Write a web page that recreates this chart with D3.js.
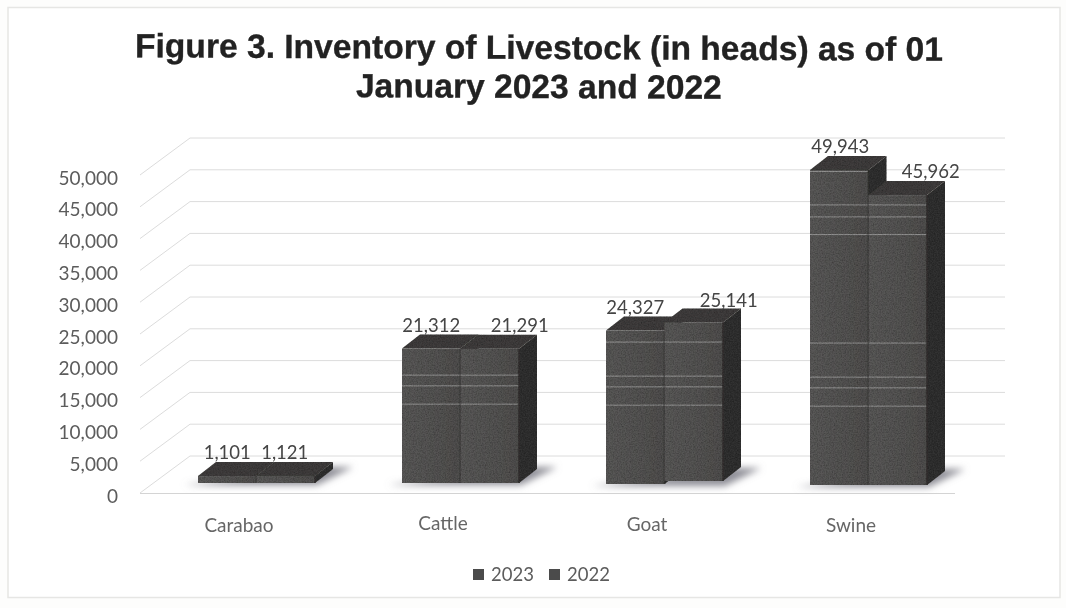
<!DOCTYPE html>
<html><head><meta charset="utf-8">
<script src="https://cdn.jsdelivr.net/npm/d3@7/dist/d3.min.js"></script>
<style>html,body{margin:0;padding:0;background:#fdfdfc}svg{display:block}</style>
</head><body><svg id="c" width="1066" height="608"></svg>
<script>
const categories = ["Carabao","Cattle","Goat","Swine"];
const seriesNames = ["2023","2022"];
const values2023 = [1101,21312,24327,49943];
const values2022 = [1121,21291,25141,45962];
const yTicks = [0,5000,10000,15000,20000,25000,30000,35000,40000,45000,50000];
const streakValues = [49700,44400,42500,39700,22500,17100,15400,12500];
const titleLines = ["Figure 3. Inventory of Livestock (in heads) as of 01","January 2023 and 2022"];

const svg = d3.select("#c");
const defs = svg.append("defs");
defs.append("filter").attr("id","blur").attr("x","-30%").attr("y","-100%").attr("width","160%").attr("height","300%")
  .append("feGaussianBlur").attr("stdDeviation",3.5);
const soft = defs.append("filter").attr("id","soft").attr("x","-2%").attr("y","-2%").attr("width","104%").attr("height","104%");
soft.append("feGaussianBlur").attr("stdDeviation",0.55);
const grain = defs.append("filter").attr("id","grain").attr("x",0).attr("y",0).attr("width","100%").attr("height","100%");
grain.append("feTurbulence").attr("type","fractalNoise").attr("baseFrequency",0.75).attr("numOctaves",2).attr("seed",4).attr("result","n");
grain.append("feColorMatrix").attr("in","n").attr("type","matrix")
  .attr("values","0 0 0 0 0  0 0 0 0 0  0 0 0 0 0  0.9 0 0 0 -0.32").attr("result","d");
grain.append("feComposite").attr("in","d").attr("in2","SourceAlpha").attr("operator","in").attr("result","dc");
const mg = grain.append("feMerge");
mg.append("feMergeNode").attr("in","SourceGraphic");
mg.append("feMergeNode").attr("in","dc");
const grad = defs.append("linearGradient").attr("id","face").attr("x1",0).attr("x2",1).attr("y1",0).attr("y2",0);
grad.append("stop").attr("offset",0).attr("stop-color","#5a5958");
grad.append("stop").attr("offset",1).attr("stop-color","#504f4e");

const root = svg.append("g").attr("filter","url(#soft)");

// frame
root.append("rect").attr("x",8).attr("y",7.5).attr("width",1052).attr("height",590)
  .attr("fill","#ffffff").attr("stroke","#e6e6e4").attr("stroke-width",1.5);

// title
root.append("g").attr("transform","rotate(0.25 539 59)").selectAll("text").data(titleLines).join("text")
  .attr("x",539).attr("y",(d,i)=>59+i*39).attr("text-anchor","middle")
  .attr("font-family","Liberation Sans").attr("font-weight","700").attr("font-size",33.6)
  .attr("fill","#222").attr("stroke","#222").attr("stroke-width",0.35).text(d=>d);

// scales
const y = d3.scaleLinear().domain([0,50000]).range([493,175]);
const depthX = 50, depthY = -37;
const xBand = d3.scaleBand().domain(categories).range([140,956]);
const xInner = d3.scaleBand().domain(seriesNames).range([58,175]);
const barH = d3.scaleLinear().domain([0,50000]).range([0,315.4]);
const baseY = {Carabao:483,Cattle:483,Goat:484,Swine:485};
const barDX = 18, barDY = -14;

// gridlines
const grid = root.append("g").attr("fill","none").attr("stroke","#dcdcdc").attr("stroke-width",1);
yTicks.forEach(t=>{
  const y0=y(t);
  grid.append("path").attr("d",d3.line()([[140,y0],[140+depthX,y0+depthY],[1005,y0+depthY]]));
});
root.append("line").attr("x1",140).attr("x2",955).attr("y1",y(0)+0.5).attr("y2",y(0)+0.5).attr("stroke","#d4d4d4");

// y axis
const axis = root.append("g").attr("transform","translate(118,3)")
  .call(d3.axisLeft(y).tickValues(yTicks).tickSize(0).tickPadding(0).tickFormat(d3.format(",")));
axis.select(".domain").remove();
axis.selectAll("text").attr("font-family","Lato").attr("font-size",19).attr("fill","#5c5c5c");

// shadows
const shadow = root.append("g").attr("filter","url(#blur)").attr("fill","#8e8e96");
categories.forEach(c=>{
  const x0=xBand(c)+xInner("2023"), x1=xBand(c)+xInner("2022")+xInner.bandwidth(), b=baseY[c];
  shadow.append("path").attr("d",d3.line()([[x0-14,b+2],[x1+2,b+2],[x1+38,b-16],[x1+10,b-16]]));
});

// bars
const bars = root.append("g").attr("filter","url(#grain)");
function drawBar(cat,ser,val,lift){
  const x0=xBand(cat)+xInner(ser), w=xInner.bandwidth(), b=baseY[cat]-lift, top=b-barH(val);
  const g=bars.append("g");
  const line=d3.line();
  g.append("path").attr("fill","#333231").attr("d",line([[x0+w,b],[x0+w+barDX,b+barDY],[x0+w+barDX,top+barDY],[x0+w,top]])+"Z");
  g.append("path").attr("fill","#3f3e3c").attr("d",line([[x0,top],[x0+barDX,top+barDY],[x0+w+barDX,top+barDY],[x0+w,top]])+"Z");
  g.append("rect").attr("x",x0).attr("y",top).attr("width",w).attr("height",b-top).attr("fill","url(#face)");
  streakValues.filter(s=>s<val).forEach(s=>{
    g.append("line").attr("x1",x0).attr("x2",x0+w).attr("y1",baseY[cat]-barH(s)).attr("y2",baseY[cat]-barH(s))
      .attr("stroke","#c8c8c8").attr("stroke-opacity",0.55).attr("stroke-width",1);
  });
  g.append("line").attr("x1",x0+w).attr("x2",x0+w).attr("y1",top).attr("y2",b).attr("stroke","#353433").attr("stroke-width",1.6);
}
categories.forEach((c,i)=>{
  drawBar(c,"2023",values2023[i],0);
  drawBar(c,"2022",values2022[i],c==="Goat"?3:0);
});

// data labels
const lab = root.append("g").attr("font-family","Lato").attr("font-size",18.5).attr("fill","#444").attr("text-anchor","middle");
const label23 = {Carabao:[0,-17],Cattle:[0,-17],Goat:[0,-17],Swine:[1,-17]};
const label22 = {Carabao:[-1,-17],Cattle:[30,-17],Goat:[35,-18],Swine:[33,-17]};
categories.forEach((c,i)=>{
  const b=baseY[c], fmt=d3.format(","), bw=xInner.bandwidth();
  lab.append("text").attr("x",xBand(c)+xInner("2023")+bw/2+label23[c][0])
    .attr("y",b-barH(values2023[i])+label23[c][1]).text(fmt(values2023[i]));
  lab.append("text").attr("x",xBand(c)+xInner("2022")+bw/2+label22[c][0])
    .attr("y",b-barH(values2022[i])+label22[c][1]).text(fmt(values2022[i]));
});

// category labels
root.append("g").selectAll("text").data(categories).join("text")
  .attr("x",d=>xBand(d)+xBand.bandwidth()/2-3)
  .attr("y",(d,i)=>[532,530,531,532][i]).attr("text-anchor","middle")
  .attr("font-family","Lato").attr("font-size",19).attr("fill","#666").text(d=>d);

// legend
const leg = root.append("g");
seriesNames.forEach((s,i)=>{
  const lx=473+i*76;
  leg.append("rect").attr("x",lx).attr("y",569).attr("width",11).attr("height",11).attr("fill","#4c4c4c");
  leg.append("text").attr("x",lx+18).attr("y",581).attr("font-family","Lato").attr("font-size",18.5).attr("fill","#5c5c5c").text(s);
});
</script></body></html>
